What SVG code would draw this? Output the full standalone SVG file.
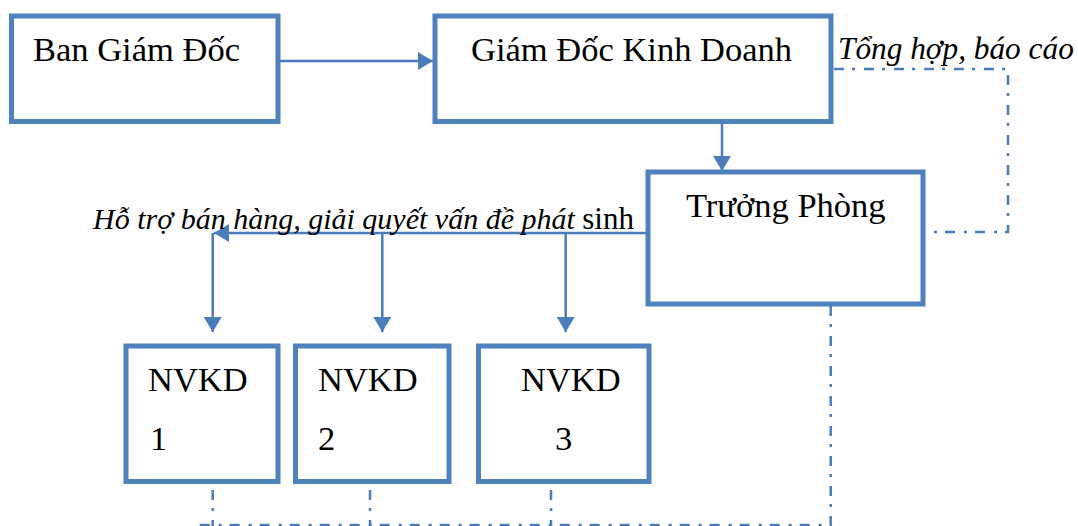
<svg xmlns="http://www.w3.org/2000/svg" width="1078" height="526" viewBox="0 0 1078 526">
<style>
.box{fill:#fff;stroke:#4F81BD;stroke-width:5}
.t{font-family:"Liberation Serif","Times New Roman",serif;font-size:34.5px;fill:#000}
.it{font-family:"Liberation Serif","Times New Roman",serif;font-size:30px;font-style:italic;fill:#000}
.ln{fill:none;stroke:#4A7EBB;stroke-width:2.5}
.dd{fill:none;stroke:#4A7EBB;stroke-width:2.5;stroke-dasharray:10 8 3 9}
</style>
<defs>
<marker id="ah" markerUnits="userSpaceOnUse" markerWidth="16" markerHeight="18" viewBox="0 0 16 18" refX="15" refY="9" orient="auto">
<path d="M0,0 L15,9 L0,18 Z" fill="#4A7EBB"/>
</marker>
</defs>
<g id="connectors">
<path class="ln" d="M278,61 H433" marker-end="url(#ah)"/>
<path class="ln" d="M722,124 V171" marker-end="url(#ah)"/>
<path class="ln" d="M646,233 H214" marker-end="url(#ah)"/>
<path class="ln" d="M212.7,233 V332" marker-end="url(#ah)"/>
<path class="ln" d="M382.3,233 V332" marker-end="url(#ah)"/>
<path class="ln" d="M565.7,233 V332" marker-end="url(#ah)"/>
<path class="dd" d="M834,69 H1008 V232 H926"/>
<path class="dd" d="M830.7,306 V525 H193"/>
<path class="dd" d="M212.7,490 V526"/>
<path class="dd" d="M370,490 V526"/>
<path class="dd" d="M551,490 V526"/>
</g>
<g id="label-tonghop"><text class="it" x="838" y="59" style="font-size:31.3px">Tổng hợp, báo cáo</text></g>
<g id="label-hotro"><text class="it" x="93" y="229">Hỗ trợ bán hàng, giải quyết vấn đề phát <tspan style="font-style:normal;font-size:31px">sinh</tspan></text></g>
<g id="ban-giam-doc">
<rect class="box" x="11.5" y="16" width="266.5" height="105.5"/>
<text class="t" x="33" y="61">Ban Giám Đốc</text>
</g>
<g id="giam-doc-kinh-doanh">
<rect class="box" x="435" y="16" width="396" height="105.5"/>
<text class="t" x="471" y="61">Giám Đốc Kinh Doanh</text>
</g>
<g id="truong-phong">
<rect class="box" x="648" y="172" width="275" height="132"/>
<text class="t" x="686" y="217">Trưởng Phòng</text>
</g>
<g id="nvkd1">
<rect class="box" x="126" y="346" width="152" height="135.5"/>
<text class="t" x="148" y="391">NVKD</text>
<text class="t" x="150" y="450">1</text>
</g>
<g id="nvkd2">
<rect class="box" x="295.5" y="346" width="153.5" height="135.5"/>
<text class="t" x="318" y="391">NVKD</text>
<text class="t" x="318" y="450">2</text>
</g>
<g id="nvkd3">
<rect class="box" x="478.5" y="346" width="170.5" height="135.5"/>
<text class="t" x="521" y="391">NVKD</text>
<text class="t" x="555" y="450">3</text>
</g>
</svg>
